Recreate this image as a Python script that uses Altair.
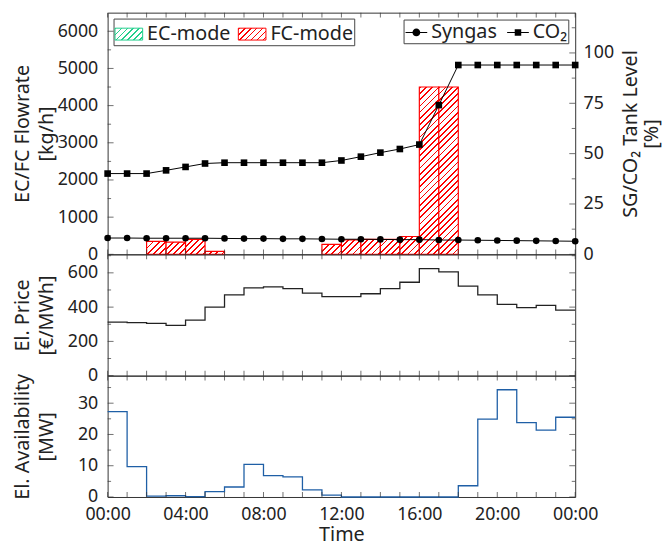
import json
import altair as alt
import pandas as pd

# ---------------- data ----------------
HOURS = list(range(24))                      # start of each hourly step
LEVEL_HOURS = list(range(25))                # tank level sample times (00:00 .. 24:00)
SYNGAS = [8.1, 8.1, 8.0, 8.0, 8.0, 8.0, 7.9, 7.8, 7.8, 7.7, 7.7, 7.6, 7.5,
          7.5, 7.4, 7.3, 7.3, 7.1, 7.1, 7.0, 6.9, 6.8, 6.7, 6.6, 6.5]
CO2 = [40.1, 40.1, 40.1, 41.7, 43.4, 45.1, 45.5, 45.5, 45.5, 45.5, 45.5, 45.5, 46.6,
       48.5, 50.5, 52.3, 54.5, 74.1, 94.0, 94.0, 94.0, 94.0, 94.0, 94.0, 94.0]
FC_START = [2, 3, 4, 5, 11, 12, 13, 14, 15, 16, 17]
FC_FLOW = [350, 330, 400, 80, 270, 390, 400, 400, 480, 4500, 4500]
PRICE = [313, 309, 305, 294, 324, 400, 472, 512, 518, 508, 482, 461,
         461, 478, 508, 545, 624, 605, 522, 472, 416, 397, 410, 383]
AVAIL = [27.3, 9.7, 0.3, 0.4, 0.1, 1.7, 3.2, 10.4, 6.8, 6.4, 2.3, 0.6,
         0.0, 0.0, 0.0, 0.0, 0.0, 0.0, 3.6, 24.9, 34.3, 23.8, 21.4, 25.5]
MODES = ["EC-mode", "FC-mode"]
SERIES = ["Syngas", "CO₂"]

X_TICKS = list(range(25))
X_LABELS = [0, 4, 8, 12, 16, 20, 24]
FLOW_MAJOR = [0, 1000, 2000, 3000, 4000, 5000, 6000]
FLOW_MINOR = [500, 1500, 2500, 3500, 4500, 5500]
LEVEL_MAJOR = [0, 25, 50, 75, 100]
LEVEL_MINOR = [12.5, 37.5, 62.5, 87.5, 112.5]
PRICE_MAJOR = [0, 200, 400, 600]
PRICE_MINOR = [100, 300, 500, 700]
AVAIL_MAJOR = [0, 10, 20, 30]
AVAIL_MINOR = [5, 15, 25, 35]

# ---------------- style ----------------
FONT = "Noto Sans"
RED = "#ff0000"
GREEN = "#22cf8c"
BLUE = "#1f5fa6"
AX = "#333333"
TXT = "#222222"
W, H1, H2, H3 = 474, 245, 123, 123
FLOW_MAX, LEVEL_MAX, PRICE_MAX, AVAIL_MAX = 6500, 120, 708, 38.8
MAJ, MIN, XT = 6, 3.5, 5

xs = alt.Scale(domain=[0, 24], nice=False, zero=False)


def hatch(w, h, color, spacing=6.3, lw=1.8):
    """Diagonal '////' hatch as a hard-stop linear gradient for a w x h box."""
    L = w + h
    k = L / (w * w + h * h)
    stops = []
    i = 0
    while i * spacing < L:
        a = i * spacing / L
        b = min((i * spacing + lw) / L, 1.0)
        c = min((i + 1) * spacing / L, 1.0)
        stops += [{"offset": a, "color": color}, {"offset": b, "color": color},
                  {"offset": b, "color": "white"}, {"offset": c, "color": "white"}]
        i += 1
    return {"gradient": "linear", "x1": 0, "y1": 0, "x2": k * w, "y2": k * h, "stops": stops}


def xticks(H, side, axis=None):
    y = XT / 2 if side == "top" else H - XT / 2
    return alt.Chart(pd.DataFrame({"t": X_TICKS})).mark_tick(
        orient="vertical", size=XT, thickness=1, color=AX
    ).encode(x=alt.X("t:Q", scale=xs, axis=axis), y=alt.value(y))


def yticks(vals, size, scale, side, axis):
    x = size / 2 if side == "left" else W - size / 2
    return alt.Chart(pd.DataFrame({"t": vals})).mark_tick(
        orient="horizontal", size=size, thickness=1, color=AX
    ).encode(y=alt.Y("t:Q", scale=scale, axis=axis), x=alt.value(x))


def left_axis(title, values):
    return alt.Axis(title=title, values=values, format="d", titleX=-76, titleBaseline="bottom",
                    titleAngle=270, titleLineHeight=24)


# ---------------- top panel ----------------
flow_s = alt.Scale(domain=[0, FLOW_MAX], nice=False)
lvl_s = alt.Scale(domain=[0, LEVEL_MAX], nice=False)
flow_axis = left_axis(["EC/FC Flowrate", "[kg/h]"], FLOW_MAJOR)

bar_layers = []
for s, v in zip(FC_START, FC_FLOW):
    df = pd.DataFrame({"start": [s], "end": [s + 1], "flow": [v]})
    bw, bh = W / 24, v / FLOW_MAX * H1
    bar_layers.append(
        alt.Chart(df).mark_rect(fill=hatch(bw, bh, RED), stroke=RED, strokeWidth=1.2).encode(
            x=alt.X("start:Q", scale=xs, axis=None),
            x2="end:Q",
            y=alt.Y("flow:Q", scale=flow_s, axis=flow_axis),
            y2=alt.datum(0),
        )
    )

SW_W, SW_H = 28, 12
mode_legend_def = alt.Legend(
    title=None, orient="top-left", offset=6, direction="horizontal",
    symbolType="M-1,-0.43H1V0.43H-1Z", symbolSize=SW_W * SW_W, symbolOpacity=1,
    symbolStrokeWidth=1, labelOffset=4, columnPadding=5, padding=1,
    strokeColor="#444", fillColor="white",
)
mode_fill_range = [alt.ExprRef(json.dumps(hatch(SW_W, SW_H, GREEN, 6.0, 1.7))),
                   alt.ExprRef(json.dumps(hatch(SW_W, SW_H, RED, 6.0, 1.7)))]
# invisible carrier of the legend, parked inside the plot so it adds no bounds
mode_legend = alt.Chart(pd.DataFrame({"mode": MODES})).mark_point(
    opacity=0, filled=True, strokeWidth=1
).encode(
    x=alt.value(W / 2), y=alt.value(H1 / 2),
    fill=alt.Fill("mode:N", scale=alt.Scale(domain=MODES, range=mode_fill_range), legend=mode_legend_def),
    stroke=alt.Stroke("mode:N", scale=alt.Scale(domain=MODES, range=[GREEN, RED]), legend=mode_legend_def),
)

left_group = alt.layer(
    *bar_layers,
    xticks(H1, "top"), xticks(H1, "bottom"),
    yticks(FLOW_MAJOR, MAJ, flow_s, "left", flow_axis),
    yticks(FLOW_MINOR, MIN, flow_s, "left", flow_axis),
    mode_legend,
)

lvl_df = pd.DataFrame({
    "hour": LEVEL_HOURS * 2,
    "level": SYNGAS + CO2,
    "series": [SERIES[0]] * len(SYNGAS) + [SERIES[1]] * len(CO2),
})

right_axis = alt.Axis(orient="right", title=["SG/CO₂ Tank Level", "[%]"], values=LEVEL_MAJOR,
                      titleX=46, titleBaseline="top", titleAngle=270, titleLineHeight=21,
                      labelPadding=8)

lines = alt.Chart(lvl_df).mark_line(color="black", strokeWidth=1).encode(
    x=alt.X("hour:Q", scale=xs, axis=None),
    y=alt.Y("level:Q", scale=lvl_s, axis=right_axis),
    detail="series:N",
)

syngas_pts = alt.Chart(lvl_df).transform_filter(alt.datum.series == SERIES[0]).mark_point(
    filled=True, color="black", size=45, opacity=1, shape="circle"
).encode(x=alt.X("hour:Q", scale=xs, axis=None), y=alt.Y("level:Q", scale=lvl_s, axis=right_axis))
co2_pts = alt.Chart(lvl_df).transform_filter(alt.datum.series == SERIES[1]).mark_point(
    filled=True, color="black", size=45, opacity=1, shape="square"
).encode(x=alt.X("hour:Q", scale=xs, axis=None), y=alt.Y("level:Q", scale=lvl_s, axis=right_axis))

# legend glyphs: a thin filled bar (the line) plus the marker
PATH_C = "M-1,-0.045H1V0.045H-1ZM-0.36,0A0.36,0.36,0,1,1,0.36,0A0.36,0.36,0,1,1,-0.36,0Z"
PATH_S = "M-1,-0.045H1V0.045H-1ZM-0.3,-0.3H0.3V0.3H-0.3Z"
series_legend = alt.Chart(pd.DataFrame({"series": SERIES})).mark_point(
    opacity=0, filled=True, color="black"
).encode(
    x=alt.value(W / 2), y=alt.value(H1 / 2),
    shape=alt.Shape("series:N", scale=alt.Scale(domain=SERIES, range=[PATH_C, PATH_S]),
                    legend=alt.Legend(
                        title=None, orient="top-right", offset=7, direction="horizontal",
                        symbolSize=484, symbolOpacity=1, symbolFillColor="black",
                        labelOffset=3, columnPadding=7, padding=1,
                        strokeColor="#444", fillColor="white",
                    )),
)

right_group = alt.layer(
    lines, syngas_pts, co2_pts, series_legend,
    yticks(LEVEL_MAJOR, MAJ, lvl_s, "right", right_axis),
    yticks(LEVEL_MINOR, MIN, lvl_s, "right", right_axis),
)

top = alt.layer(left_group, right_group).resolve_scale(y="independent").properties(width=W, height=H1)

# ---------------- middle panel ----------------
price_s = alt.Scale(domain=[0, PRICE_MAX], nice=False)
price_axis = left_axis(["El. Price", "[€/MWh]"], PRICE_MAJOR)
price_df = pd.DataFrame({"hour": HOURS + [24], "price": PRICE + [PRICE[-1]]})
price_line = alt.Chart(price_df).mark_line(interpolate="step-after", color="#222", strokeWidth=1.3).encode(
    x=alt.X("hour:Q", scale=xs, axis=None),
    y=alt.Y("price:Q", scale=price_s, axis=price_axis),
)
mid = alt.layer(
    price_line,
    xticks(H2, "top"), xticks(H2, "bottom"),
    yticks(PRICE_MAJOR, MAJ, price_s, "left", price_axis),
    yticks(PRICE_MINOR, MIN, price_s, "left", price_axis),
    yticks(PRICE_MAJOR, MAJ, price_s, "right", price_axis),
    yticks(PRICE_MINOR, MIN, price_s, "right", price_axis),
).properties(width=W, height=H2)

# ---------------- bottom panel ----------------
avail_s = alt.Scale(domain=[0, AVAIL_MAX], nice=False)
avail_axis = left_axis(["El. Availability", "[MW]"], AVAIL_MAJOR)
time_axis = alt.Axis(title="Time", values=X_LABELS, titlePadding=1, labelPadding=9,
                     labelExpr="(datum.value % 24 < 10 ? '0' : '') + (datum.value % 24) + ':00'")
avail_df = pd.DataFrame({"hour": HOURS + [24], "avail": AVAIL + [AVAIL[-1]]})
avail_line = alt.Chart(avail_df).mark_line(interpolate="step-after", color=BLUE, strokeWidth=1.3).encode(
    x=alt.X("hour:Q", scale=xs, axis=time_axis),
    y=alt.Y("avail:Q", scale=avail_s, axis=avail_axis),
)
bot = alt.layer(
    avail_line,
    xticks(H3, "top", time_axis), xticks(H3, "bottom", time_axis),
    yticks(AVAIL_MAJOR, MAJ, avail_s, "left", avail_axis),
    yticks(AVAIL_MINOR, MIN, avail_s, "left", avail_axis),
    yticks(AVAIL_MAJOR, MAJ, avail_s, "right", avail_axis),
    yticks(AVAIL_MINOR, MIN, avail_s, "right", avail_axis),
).properties(width=W, height=H3)

chart = (
    alt.vconcat(top, mid, bot, spacing=0, bounds="flush")
    .resolve_scale(fill="independent", stroke="independent", shape="independent")
    .resolve_legend(fill="independent", stroke="independent", shape="independent")
    .properties(padding={"left": 4, "right": 0, "top": 0, "bottom": 0})
    .configure(font=FONT)
    .configure_view(stroke=AX, strokeWidth=1)
    .configure_axis(labelFontSize=18, titleFontSize=20, titleFontWeight="normal",
                    labelColor=TXT, titleColor=TXT, grid=False, ticks=False, domain=False,
                    labelFlush=False, labelOverlap=False, labelPadding=10, labelFont=FONT, titleFont=FONT)
    .configure_legend(labelFontSize=20, labelColor=TXT, labelFont=FONT, labelLimit=400)
)

chart.save("out.html", embed_options={"renderer": "svg", "actions": False})
